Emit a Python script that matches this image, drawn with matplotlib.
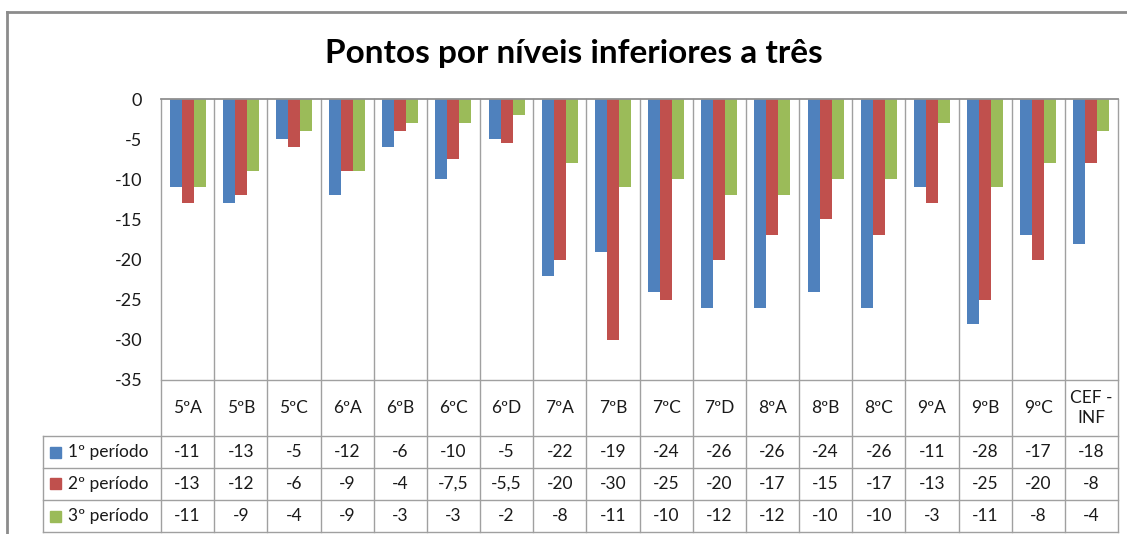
import matplotlib
matplotlib.use('Agg')
import matplotlib.pyplot as plt
import matplotlib.transforms as mtransforms
from matplotlib.lines import Line2D
from matplotlib.patches import Rectangle
import numpy as np

# --- dados ---
turmas = ['5ºA', '5ºB', '5ºC', '6ºA', '6ºB', '6ºC', '6ºD', '7ºA', '7ºB', '7ºC',
          '7ºD', '8ºA', '8ºB', '8ºC', '9ºA', '9ºB', '9ºC', 'CEF -\nINF']
periodo_1 = [-11, -13, -5, -12, -6, -10, -5, -22, -19, -24, -26, -26, -24, -26, -11, -28, -17, -18]
periodo_2 = [-13, -12, -6, -9, -4, -7.5, -5.5, -20, -30, -25, -20, -17, -15, -17, -13, -25, -20, -8]
periodo_3 = [-11, -9, -4, -9, -3, -3, -2, -8, -11, -10, -12, -12, -10, -10, -3, -11, -8, -4]
nomes = ['1º período', '2º período', '3º período']
cores = ['#4F81BD', '#C0504D', '#9BBB59']
y_ticks = [0, -5, -10, -15, -20, -25, -30, -35]

plt.rcParams['font.family'] = ['Lato', 'DejaVu Sans']

W, H, DPI = 1127, 534, 100
fig = plt.figure(figsize=(W / DPI, H / DPI), dpi=DPI)

# área do gráfico em pixels
px_left, px_right, px_top, px_bottom = 161, 1118, 99, 380
ax = fig.add_axes([px_left / W, 1 - px_bottom / H,
                   (px_right - px_left) / W, (px_bottom - px_top) / H])
ax_h = px_bottom - px_top
cat_px = (px_right - px_left) / len(turmas)

x = np.arange(len(turmas))
bw = 0.226
series = [periodo_1, periodo_2, periodo_3]
for i, (vals, nome, cor) in enumerate(zip(series, nomes, cores)):
    ax.bar(x + (i - 1) * bw, vals, width=bw, color=cor, label=nome, zorder=3)

ax.set_xlim(-0.5, len(turmas) - 0.5)
ax.set_ylim(-35, 0)
ax.set_yticks(y_ticks)
ax.set_yticklabels([str(v) for v in y_ticks], fontsize=13, color='#1a1a1a')
ax.tick_params(axis='y', length=0, pad=13.5)
ax.set_xticks([])
for s in ax.spines.values():
    s.set_visible(False)

# --- tabela de dados ---
GRID = '#A0A0A0'
TXT = '#1a1a1a'
tr = mtransforms.blended_transform_factory(ax.transData, ax.transAxes)

def fy(px):
    # pixel da figura -> fração do eixo
    return (px_bottom - px) / ax_h

label_row_bottom = 436
row_h = 32
rows_y = [label_row_bottom + k * row_h for k in range(4)]
leg_left = -0.5 - (px_left - 43) / cat_px
x_end = len(turmas) - 0.5

# linha do zero e linha do -35
ax.add_line(Line2D([-0.5, x_end], [1, 1], transform=tr, color='#909090', lw=1.3, clip_on=False, zorder=4))
ax.add_line(Line2D([-0.5, x_end], [0, 0], transform=tr, color=GRID, lw=1, clip_on=False))
for yb in rows_y:
    ax.add_line(Line2D([leg_left, x_end], [fy(yb), fy(yb)], transform=tr, color=GRID, lw=1, clip_on=False))
for k in range(len(turmas) + 1):
    xv = k - 0.5
    ax.add_line(Line2D([xv, xv], [1, fy(rows_y[-1])], transform=tr, color=GRID, lw=1, clip_on=False, zorder=1))
ax.add_line(Line2D([leg_left, leg_left], [fy(rows_y[0]), fy(rows_y[-1])], transform=tr,
                   color=GRID, lw=1, clip_on=False))

# rótulos das turmas
for xi, t in zip(x, turmas):
    ax.text(xi, fy((px_bottom + label_row_bottom) / 2), t, transform=tr, ha='center', va='center',
            fontsize=12.5, color=TXT, linespacing=1.35)

# linhas de valores
for r, (vals, nome, cor) in enumerate(zip(series, nomes, cores)):
    yc = fy(rows_y[r] + row_h / 2)
    for xi, v in zip(x, vals):
        txt = ('%g' % v).replace('.', ',')
        ax.text(xi, yc, txt, transform=tr, ha='center', va='center', fontsize=12.5, color=TXT)
    sq = 11 / cat_px
    ax.add_patch(Rectangle((leg_left + 7 / cat_px, yc - (5.5 / ax_h)), sq, 11 / ax_h,
                           transform=tr, color=cor, clip_on=False))
    ax.text(leg_left + 25 / cat_px, yc, nome, transform=tr, ha='left', va='center',
            fontsize=12.5, color=TXT)

# título
fig.text(574 / W, 1 - 53 / H, 'Pontos por níveis inferiores a três', ha='center', va='center',
         fontsize=24, fontweight='bold', color='black')

# moldura do gráfico
fig.add_artist(Line2D([7 / W, 7 / W], [0, 1 - 12 / H], transform=fig.transFigure, color='#8C8C8C', lw=2))
fig.add_artist(Line2D([7 / W, 1], [1 - 12 / H, 1 - 12 / H], transform=fig.transFigure, color='#8C8C8C', lw=2))

fig.savefig('out.png', dpi=DPI, facecolor='white')
